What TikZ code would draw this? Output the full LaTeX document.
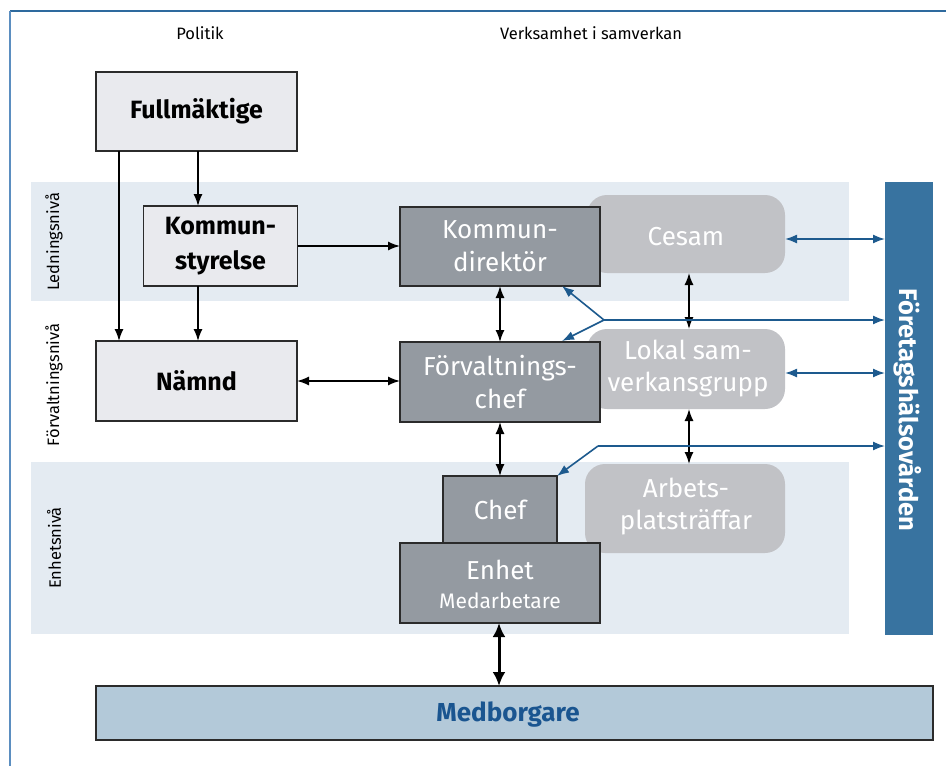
\documentclass[tikz,border=0pt]{standalone}
\usepackage{fontspec}
\setmainfont{Fira Sans}
\usetikzlibrary{arrows.meta}
\definecolor{bandc}{HTML}{E4EBF2}
\definecolor{lightc}{HTML}{E9EAEE}
\definecolor{darkc}{HTML}{949AA1}
\definecolor{roundc}{HTML}{C1C2C6}
\definecolor{barc}{HTML}{3873A0}
\definecolor{bluearr}{HTML}{1D5A8E}
\definecolor{medc}{HTML}{B3C9D9}
\definecolor{medtext}{HTML}{1A5590}
\definecolor{framec}{HTML}{2E6A9E}
\definecolor{framel}{HTML}{5B8EC0}
\definecolor{borderc}{HTML}{2B2B2B}
\tikzset{
  lightbox/.style={draw=borderc, line width=1.1pt, fill=lightc, inner sep=0pt, outer sep=0pt, align=center,
     font=\bfseries\fontsize{25}{35}\selectfont},
  darkbox/.style={draw=borderc, line width=1.1pt, fill=darkc, inner sep=0pt, outer sep=0pt, align=center, text=white,
     font=\fontsize{26}{33}\selectfont},
  roundbox/.style={fill=roundc, rounded corners=20pt, inner sep=0pt, outer sep=0pt, align=center, text=white,
     font=\fontsize{26}{32}\selectfont},
  arr/.style={line width=1.5pt, {Latex[length=12pt,width=9pt]}-{Latex[length=12pt,width=9pt]}},
  sarr/.style={line width=1.5pt, -{Latex[length=12pt,width=9pt]}},
  barr/.style={line width=1.6pt, draw=bluearr, -{Latex[length=12pt,width=9pt]}},
  bbarr/.style={line width=1.6pt, draw=bluearr, {Latex[length=12pt,width=9pt]}-{Latex[length=12pt,width=9pt]}},
  lvl/.style={rotate=90, font=\fontsize{16.5}{19}\selectfont},
  head/.style={font=\fontsize{16.5}{19}\selectfont}
}
\begin{document}
\begin{tikzpicture}[x=1pt,y=-1pt]
\useasboundingbox (0,0) rectangle (946,766);
% frame
\draw[framec, line width=1.6pt] (10,11) -- (946,11);
\draw[framel, line width=1.6pt] (10,11) -- (10,766);
% bands
\fill[bandc] (31,182) rectangle (849,301);
\fill[bandc] (31,462) rectangle (849,634);
% headings
\node[head] (pol) at (200,33) {Politik};
\node[head] (verk) at (591,33) {Verksamhet i samverkan};
% level labels
\node[lvl] (l1) at (54,242) {Ledningsnivå};
\node[lvl] (l2) at (54,385) {Förvaltningsnivå};
\node[lvl] (l3) at (54,548) {Enhetsnivå};
% rounded boxes (behind)
\node[roundbox, minimum width=198pt, minimum height=78pt] (cesam) at (686,234) {};
\node[roundbox] at (686,237) {Cesam};
\node[roundbox, minimum width=198pt, minimum height=80pt] (lokal) at (686,369) {};
\node[roundbox] at (688,369) {Lokal sam-\\verkansgrupp};
\node[roundbox, minimum width=200pt, minimum height=89pt] (arb) at (685,508.5) {};
\node[roundbox] at (686,507) {Arbets-\\platsträffar};
% light boxes
\node[lightbox, minimum width=201pt, minimum height=79pt] (full) at (196.5,111.5) {Fullmäktige};
\node[lightbox, minimum width=154pt, minimum height=80pt] (ks) at (220.5,246) {Kommun-\\styrelse};
\node[lightbox, minimum width=201pt, minimum height=80pt] (namnd) at (196.5,381) {Nämnd};
% dark boxes
\node[darkbox, minimum width=200pt, minimum height=79pt] (kd) at (500,246.5) {Kommun-\\direktör};
\node[darkbox, minimum width=200pt, minimum height=80pt] (fc) at (500,382) {Förvaltnings-\\chef};
\node[darkbox, minimum width=114pt, minimum height=67pt] (chef) at (500,509.5) {Chef};
\node[darkbox, minimum width=200pt, minimum height=80pt] (enhet) at (500,583) {};
\node[text=white, font=\fontsize{26}{30}\selectfont] (enhett) at (500,570) {Enhet};
\node[text=white, font=\fontsize{21}{24}\selectfont] (medarb) at (500,601) {Medarbetare};
% bar and medborgare
\node[fill=barc, minimum width=48pt, minimum height=453pt, inner sep=0pt, outer sep=0pt] (bar) at (909,408.5) {};
\node[rotate=-90, text=white, font=\bfseries\fontsize{25.5}{30}\selectfont] (bart) at (908,410) {Företagshälsovården};
\node[draw=borderc, line width=1.1pt, fill=medc, minimum width=837pt, minimum height=54pt, inner sep=0pt, outer sep=0pt] (medb) at (514.5,713) {};
\node[text=medtext, font=\bfseries\fontsize{26}{30}\selectfont] (medbt) at (508,715) {Medborgare};
% black connectors
\draw[sarr] (full.south -| 198,0) -- (ks.north -| 198,0);
\draw[sarr] (full.south -| 119,0) -- (namnd.north -| 119,0);
\draw[sarr] (ks.south -| 198,0) -- (namnd.north -| 198,0);
\draw[sarr] (ks.east) -- (kd.west |- ks.east);
\draw[arr] (namnd.east) -- (fc.west |- namnd.east);
\draw[arr] (kd.south) -- (fc.north);
\draw[arr] (fc.south) -- (chef.north);
\draw[arr] (cesam.south -| 689,0) -- (lokal.north -| 689,0);
\draw[arr] (lokal.south -| 689,0) -- (arb.north -| 689,0);
\draw[line width=3pt, {Latex[length=14pt,width=13pt]}-{Latex[length=14pt,width=13pt]}] (enhet.south -| 499,0) -- (medb.north -| 499,0);
% blue connectors
\draw[bbarr] (cesam.east |- 0,239) -- (bar.west |- 0,239);
\draw[bbarr] (lokal.east |- 0,373) -- (bar.west |- 0,373);
\coordinate (j1) at (604,320);
\coordinate (t1) at (562,286);
\coordinate (t2) at (562,341);
\draw[barr] (j1) -- (bar.west |- j1);
\draw[barr] (j1) -- (t1);
\draw[barr] (j1) -- (t2);
\coordinate (j2) at (598,446);
\draw[barr] (j2) -- (chef.north east);
\draw[barr] (j2) -- (bar.west |- j2);
\end{tikzpicture}
\end{document}
